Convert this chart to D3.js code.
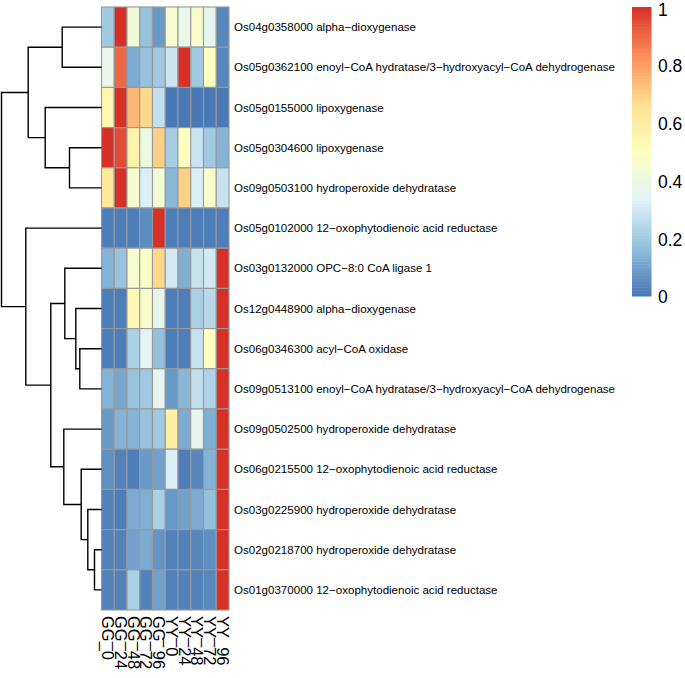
<!DOCTYPE html>
<html><head><meta charset="utf-8">
<script src="https://cdn.jsdelivr.net/npm/d3@7"></script>
<style>body{margin:0;background:#fff}svg{display:block}</style>
</head><body>
<svg id="c" width="685" height="678"></svg>
<script>
const columns = ["GG_0","GG_24","GG_48","GG_72","GG_96","YY_0","YY_24","YY_48","YY_72","YY_96"];
const genes = [
 "Os04g0358000 alpha\u2212dioxygenase",
 "Os05g0362100 enoyl\u2212CoA hydratase/3\u2212hydroxyacyl\u2212CoA dehydrogenase",
 "Os05g0155000 lipoxygenase",
 "Os05g0304600 lipoxygenase",
 "Os09g0503100 hydroperoxide dehydratase",
 "Os05g0102000 12\u2212oxophytodienoic acid reductase",
 "Os03g0132000 OPC\u22128:0 CoA ligase 1",
 "Os12g0448900 alpha\u2212dioxygenase",
 "Os06g0346300 acyl\u2212CoA oxidase",
 "Os09g0513100 enoyl\u2212CoA hydratase/3\u2212hydroxyacyl\u2212CoA dehydrogenase",
 "Os09g0502500 hydroperoxide dehydratase",
 "Os06g0215500 12\u2212oxophytodienoic acid reductase",
 "Os03g0225900 hydroperoxide dehydratase",
 "Os02g0218700 hydroperoxide dehydratase",
 "Os01g0370000 12\u2212oxophytodienoic acid reductase"
];
const values = [
 [0.20, 1.00, 0.42, 0.18, 0.08, 0.45, 0.38, 0.46, 0.36, 0.04],
 [0.38, 0.90, 0.12, 0.18, 0.20, 0.29, 1.00, 0.20, 0.50, 0.04],
 [0.55, 1.00, 0.75, 0.68, 0.27, 0.01, 0.01, 0.01, 0.01, 0.01],
 [1.00, 0.95, 0.57, 0.40, 0.70, 0.21, 0.50, 0.29, 0.20, 0.14],
 [0.62, 1.00, 0.45, 0.32, 0.43, 0.15, 0.70, 0.32, 0.47, 0.28],
 [0.02, 0.02, 0.02, 0.05, 1.00, 0.02, 0.02, 0.02, 0.02, 0.02],
 [0.14, 0.18, 0.45, 0.48, 0.68, 0.30, 0.13, 0.28, 0.30, 1.00],
 [0.02, 0.02, 0.53, 0.47, 0.37, 0.02, 0.02, 0.22, 0.25, 1.00],
 [0.02, 0.02, 0.22, 0.35, 0.17, 0.02, 0.02, 0.28, 0.50, 1.00],
 [0.14, 0.11, 0.18, 0.20, 0.36, 0.08, 0.15, 0.27, 0.23, 1.00],
 [0.08, 0.14, 0.14, 0.18, 0.20, 0.58, 0.12, 0.36, 0.13, 1.00],
 [0.06, 0.03, 0.02, 0.08, 0.10, 0.32, 0.02, 0.04, 0.14, 1.00],
 [0.03, 0.02, 0.12, 0.13, 0.22, 0.08, 0.10, 0.12, 0.17, 1.00],
 [0.03, 0.03, 0.10, 0.12, 0.07, 0.03, 0.03, 0.04, 0.06, 1.00],
 [0.03, 0.03, 0.22, 0.03, 0.10, 0.03, 0.03, 0.03, 0.04, 1.00]
];
// row dendrogram: [height, left, right]; leaves are row indices
const rowTree = [100,
  [73.3, [39.3, 0, 1], [56.3, 2, [32, 3, 4]]],
  [75.7, 5, [50.7, [36.7, 6, [25.7, 7, [21.7, 8, 9]]],
                   [37.7, 10, [20.3, 11, [13.7, 12, [7, 13, 14]]]]]]];
const legendTicks = [0, 0.2, 0.4, 0.6, 0.8, 1];
const palette = ["#4575B4","#91BFDB","#E0F3F8","#FFFFBF","#FEE090","#FC8D59","#D73027"];

const svg = d3.select("#c");
const font = "'Liberation Sans', Arial, Helvetica, sans-serif";
const hm = {x0: 101.5, x1: 229, y0: 7, y1: 610};

const color = d3.scaleLinear()
  .domain(palette.map((d,i)=> i/(palette.length-1)))
  .range(palette).interpolate(d3.interpolateRgb).clamp(true);

const x = d3.scaleBand().domain(columns).range([hm.x0, hm.x1]);
const y = d3.scaleBand().domain(d3.range(genes.length)).range([hm.y0, hm.y1]);

// cells
const g = svg.append("g");
values.forEach((row, i) => {
  g.selectAll(null).data(row).enter().append("rect")
    .attr("x", (d,j)=> x(columns[j]))
    .attr("y", y(i))
    .attr("width", x.bandwidth())
    .attr("height", y.bandwidth())
    .attr("fill", d => color(d))
    .attr("stroke", "#999999")
    .attr("stroke-width", 1.1);
});

// row labels
svg.append("g").selectAll("text").data(genes).enter().append("text")
  .attr("x", hm.x1 + 5)
  .attr("y", (d,i)=> y(i) + y.bandwidth()/2)
  .attr("dy", "0.35em")
  .attr("font-family", font).attr("font-size", 11.55).attr("fill", "#000")
  .text(d=>d);

// column labels (rotated)
svg.append("g").selectAll("text").data(columns).enter().append("text")
  .attr("transform", d => `translate(${x(d) + x.bandwidth()/2},${hm.y1 + 6}) rotate(90)`)
  .attr("dy", "0.35em")
  .attr("font-family", font).attr("font-size", 16.5).attr("fill", "#000")
  .text(d=>d);

// dendrogram
function toNode(t){
  if (typeof t === "number") return {leaf: t, height: 0};
  return {height: t[0], children: [toNode(t[1]), toNode(t[2])]};
}
const root = d3.hierarchy(toNode(rowTree));
const hx = d3.scaleLinear().domain([0, 100]).range([hm.x0, 1.5]);
root.eachAfter(n => {
  if (!n.children) n.py = y(n.data.leaf) + y.bandwidth()/2;
  else n.py = d3.mean(n.children, c => c.py);
});
const dg = svg.append("g").attr("fill","none").attr("stroke","#000").attr("stroke-width",1.4);
root.descendants().filter(n=>n.children).forEach(n => {
  const xp = hx(n.data.height);
  const [a, b] = n.children;
  dg.append("path").attr("d",
    `M${hx(a.data.height)},${a.py}H${xp}V${b.py}H${hx(b.data.height)}`);
});

// legend
const ly = d3.scaleLinear().domain([0,1]).range([296, 7]);
const steps = d3.range(100);
const lg = svg.append("g");
lg.selectAll("rect").data(steps).enter().append("rect")
  .attr("x", 632).attr("width", 19.5)
  .attr("y", d => ly((d+1)/100))
  .attr("height", (ly(0)-ly(1))/100 + 0.5)
  .attr("fill", d => color((d+0.5)/100));
lg.selectAll("text").data(legendTicks).enter().append("text")
  .attr("x", 658).attr("y", d => Math.max(ly(d) + 1, 10)).attr("dy","0.36em")
  .attr("font-family", font).attr("font-size", 17.5).attr("fill","#000")
  .text(d => d3.format("")(d));
</script>
</body></html>
